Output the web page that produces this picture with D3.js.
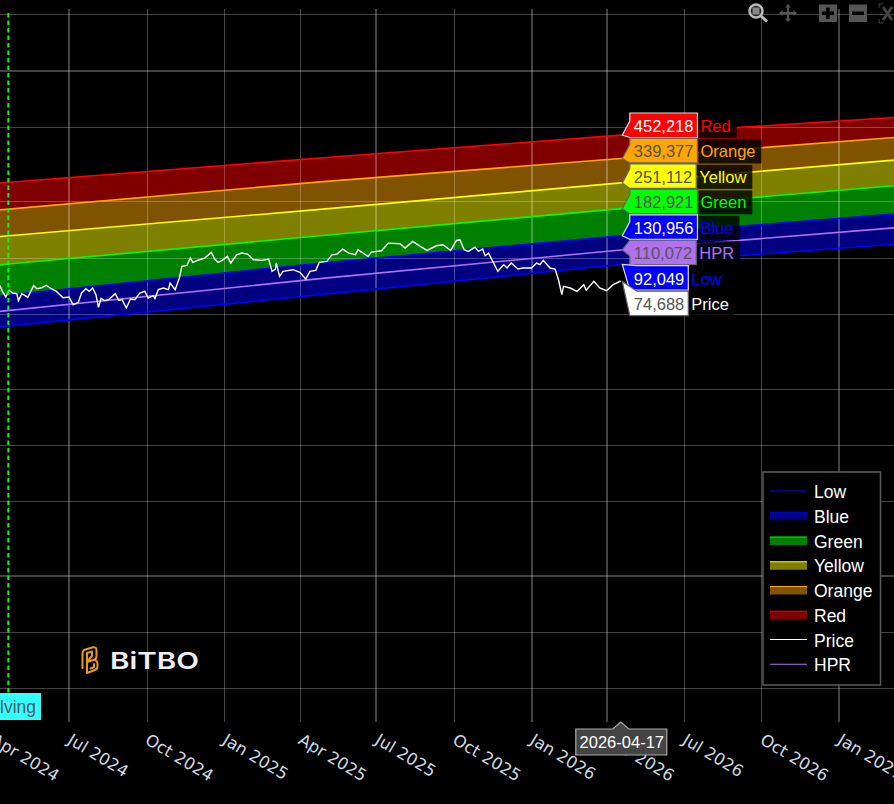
<!DOCTYPE html>
<html>
<head>
<meta charset="utf-8">
<title>Bitcoin Rainbow Bands</title>
<script src="https://d3js.org/d3.v7.min.js"></script>
<style>
    html, body { margin: 0; padding: 0; background: #000; overflow: hidden; }
    svg { display: block; }
    text { font-family: "Liberation Sans", Arial, sans-serif; }
</style>
</head>
<body>
<div id="chart"></div>
<script>
// axis ticks
var xTickDates = ['2024-04-01', '2024-07-01', '2024-10-01', '2025-01-01', '2025-04-01', '2025-07-01',
    '2025-10-01', '2026-01-01', '2026-04-01', '2026-07-01', '2026-10-01', '2027-01-01'];
var yTickValues = [2000000, 1000000, 500000, 200000, 100000, 50000, 20000, 10000, 5000, 2000, 1000, 500];

// band edges
var bandDates = ['2024-04-01', '2025-04-25', '2026-04-17', '2027-03-15'];
var lowValues = [42300, 63500, 92049, 118800];
var blueValues = [62100, 93500, 130956, 172500];
var greenValues = [91000, 131000, 182921, 244200];
var yellowValues = [128800, 181400, 251112, 334800];
var orangeValues = [178700, 254300, 339377, 442000];
var redValues = [249000, 341400, 452218, 564800];
var hprValues = [51200, 77300, 110072, 145400];

// price line
var priceDates = ['2024-04-06', '2024-04-10', '2024-04-13', '2024-04-17', '2024-04-21', '2024-04-25', '2024-04-30',
    '2024-05-02', '2024-05-06', '2024-05-10', '2024-05-13', '2024-05-20', '2024-05-24', '2024-05-30',
    '2024-06-04', '2024-06-10', '2024-06-16', '2024-06-24', '2024-07-01', '2024-07-06', '2024-07-12',
    '2024-07-16', '2024-07-21', '2024-07-25', '2024-07-29', '2024-08-02', '2024-08-05', '2024-08-08',
    '2024-08-12', '2024-08-17', '2024-08-25', '2024-08-29', '2024-09-02', '2024-09-07', '2024-09-12',
    '2024-09-17', '2024-09-23', '2024-09-29', '2024-10-03', '2024-10-09', '2024-10-11', '2024-10-15',
    '2024-10-21', '2024-10-27', '2024-10-29', '2024-11-04', '2024-11-09', '2024-11-12', '2024-11-18',
    '2024-11-22', '2024-11-25', '2024-12-03', '2024-12-09', '2024-12-17', '2024-12-21', '2024-12-25',
    '2024-12-30', '2025-01-05', '2025-01-09', '2025-01-16', '2025-01-22', '2025-01-29', '2025-02-05',
    '2025-02-15', '2025-02-23', '2025-02-27', '2025-03-03', '2025-03-04', '2025-03-08', '2025-03-12',
    '2025-03-24', '2025-04-01', '2025-04-08', '2025-04-13', '2025-04-20', '2025-04-24', '2025-05-03',
    '2025-05-09', '2025-05-15', '2025-05-22', '2025-05-29', '2025-06-06', '2025-06-09', '2025-06-21',
    '2025-06-25', '2025-07-07', '2025-07-15', '2025-07-29', '2025-08-04', '2025-08-13', '2025-08-22',
    '2025-08-30', '2025-09-10', '2025-09-18', '2025-09-27', '2025-10-04', '2025-10-08', '2025-10-13',
    '2025-10-18', '2025-10-26', '2025-10-30', '2025-11-04', '2025-11-07', '2025-11-11', '2025-11-17',
    '2025-11-22', '2025-11-29', '2025-12-03', '2025-12-08', '2025-12-16', '2025-12-22', '2026-01-01',
    '2026-01-07', '2026-01-11', '2026-01-15', '2026-01-23', '2026-01-29', '2026-02-02', '2026-02-06',
    '2026-02-08', '2026-02-16', '2026-02-24', '2026-03-04', '2026-03-07', '2026-03-16', '2026-03-23',
    '2026-03-31', '2026-04-08', '2026-04-16', '2026-04-17'];
var priceValues = [72000, 70900, 66100, 61700, 67000, 64800, 64300,
    59000, 64300, 62700, 61400, 70900, 68300, 69200,
    71200, 68300, 66100, 61200, 61700, 56100, 57800,
    64800, 68300, 66100, 68900, 63500, 54300, 60700,
    59000, 59700, 64300, 59200, 59700, 53900, 60200,
    59700, 64800, 66100, 60900, 62700, 60500, 67500,
    68900, 67500, 73300, 67500, 77900, 89900, 91000,
    99600, 94400, 97600, 99600, 106800, 98400, 94400,
    96800, 101700, 93700, 103700, 105900, 104600, 97600,
    96800, 98400, 84600, 87000, 93700, 79500, 84600,
    86300, 83500, 77000, 84600, 85600, 94400, 95600,
    103700, 104600, 111200, 105900, 103700, 110300, 101700,
    107200, 109000, 119700, 118800, 112600, 122200, 114900,
    109400, 115900, 117300, 109400, 123700, 124700, 110300,
    108100, 114000, 108100, 111200, 102500, 105900, 93700,
    84600, 91800, 88100, 93700, 87000, 88100, 88100,
    93700, 91800, 96800, 88100, 87000, 76300, 63500,
    70300, 68900, 66100, 71800, 67000, 74800, 68900,
    66700, 71800, 74800, 74688];

var halvingDate = '2024-04-20';
var cursorDate = '2026-04-17';

// legend order and labels
var legendNames = ['Low', 'Blue', 'Green', 'Yellow', 'Orange', 'Red', 'Price', 'HPR'];
var flagNames = ['Red', 'Orange', 'Yellow', 'Green', 'Blue', 'HPR', 'Low', 'Price'];
var flagValues = [452218, 339377, 251112, 182921, 130956, 110072, 92049, 74688];

var colors = { Low: '#0000ff', Blue: '#0000ff', Green: '#00ff00', Yellow: '#ffff00', Orange: '#ffa500',
    Red: '#ff0000', Price: '#ffffff', HPR: '#b070f0' };
var darkFlags = ['Orange', 'Yellow', 'Green', 'HPR', 'Price'];

var parseDate = d3.timeParse('%Y-%m-%d');
var formatNumber = d3.format(',');
var formatTick = d3.timeFormat('%b %Y');

var svg = d3.select('#chart').append('svg')
    .attr('width', 894)
    .attr('height', 804);

svg.append('rect').attr('width', 894).attr('height', 804).attr('fill', '#000');

var xScale = d3.scaleTime()
    .domain([parseDate('2024-07-01'), parseDate('2027-01-01')])
    .range([69, 839]);
var yScale = d3.scaleLog()
    .domain([500, 2000000])
    .range([688.3, 14.3]);

function bandRows(lower, upper) {
    return bandDates.map(function(d, i) {
        return { date: parseDate(d), low: lower[i], high: upper[i] };
    });
}

// bands first, the grid shows through them
var area = d3.area()
    .x(function(d) { return xScale(d.date); })
    .y0(function(d) { return yScale(d.low); })
    .y1(function(d) { return yScale(d.high); });

var bands = [
    { color: colors.Blue, rows: bandRows(lowValues, blueValues) },
    { color: colors.Green, rows: bandRows(blueValues, greenValues) },
    { color: colors.Yellow, rows: bandRows(greenValues, yellowValues) },
    { color: colors.Orange, rows: bandRows(yellowValues, orangeValues) },
    { color: colors.Red, rows: bandRows(orangeValues, redValues) }
];
bands.forEach(function(b) {
    svg.append('path')
        .datum(b.rows)
        .attr('d', area)
        .attr('fill', b.color)
        .attr('fill-opacity', 0.5);
});

// grid
var thickY = [1000000, 2000];
var thickX = ['2024-07-01', '2025-07-01', '2026-01-01', '2026-04-01', '2027-01-01'];
var gridColor = 'rgba(255,255,255,0.26)';

svg.append('g').selectAll('line')
    .data(yTickValues)
    .enter().append('line')
    .attr('x1', 0)
    .attr('x2', 894)
    .attr('y1', function(d) { return Math.round(yScale(d)) + (thickY.indexOf(d) >= 0 ? 0 : 0.5); })
    .attr('y2', function(d) { return Math.round(yScale(d)) + (thickY.indexOf(d) >= 0 ? 0 : 0.5); })
    .attr('stroke', gridColor)
    .attr('stroke-width', function(d) { return thickY.indexOf(d) >= 0 ? 2 : 1; });

svg.append('g').selectAll('line')
    .data(xTickDates)
    .enter().append('line')
    .attr('x1', function(d) { return Math.round(xScale(parseDate(d))) + (thickX.indexOf(d) >= 0 ? 0 : 0.5); })
    .attr('x2', function(d) { return Math.round(xScale(parseDate(d))) + (thickX.indexOf(d) >= 0 ? 0 : 0.5); })
    .attr('y1', 9)
    .attr('y2', 722)
    .attr('stroke', gridColor)
    .attr('stroke-width', function(d) { return thickX.indexOf(d) >= 0 ? 2 : 1; });

// band edges and the lines
function valueLine(values, color, width) {
    var rows = bandDates.map(function(d, i) { return { date: parseDate(d), value: values[i] }; });
    svg.append('path')
        .datum(rows)
        .attr('d', d3.line()
            .x(function(d) { return xScale(d.date); })
            .y(function(d) { return yScale(d.value); }))
        .attr('fill', 'none')
        .attr('stroke', color)
        .attr('stroke-width', width);
}
valueLine(lowValues, colors.Low, 1.6);
valueLine(blueValues, colors.Blue, 1.6);
valueLine(greenValues, colors.Green, 1.6);
valueLine(yellowValues, colors.Yellow, 1.6);
valueLine(orangeValues, colors.Orange, 1.6);
valueLine(redValues, colors.Red, 1.6);
valueLine(hprValues, colors.HPR, 1.6);

var priceRows = priceDates.map(function(d, i) { return { date: parseDate(d), value: priceValues[i] }; });
svg.append('path')
    .datum(priceRows)
    .attr('d', d3.line()
        .x(function(d) { return xScale(d.date); })
        .y(function(d) { return yScale(d.value); }))
    .attr('fill', 'none')
    .attr('stroke', colors.Price)
    .attr('stroke-width', 1.4);

// halving marker
var halvingX = xScale(parseDate(halvingDate));
svg.append('line')
    .attr('x1', halvingX)
    .attr('x2', halvingX)
    .attr('y1', 13)
    .attr('y2', 693)
    .attr('stroke', '#00ff00')
    .attr('stroke-width', 2)
    .attr('stroke-dasharray', '4.5,3');
svg.append('rect')
    .attr('x', -40).attr('y', 693)
    .attr('width', 81).attr('height', 27)
    .attr('fill', '#33ffff');
svg.append('text')
    .attr('x', 36).attr('y', 713)
    .attr('text-anchor', 'end')
    .attr('font-size', 17.5)
    .attr('fill', '#4d5a66')
    .text('Halving');

// x axis labels
var axis = d3.axisBottom(xScale)
    .tickValues(xTickDates.map(parseDate))
    .tickFormat(formatTick)
    .tickSize(0);
var axisGroup = svg.append('g')
    .attr('transform', 'translate(0,723)')
    .call(axis);
axisGroup.select('.domain').remove();
axisGroup.selectAll('text')
    .attr('text-anchor', 'start')
    .attr('x', 0)
    .attr('y', 0)
    .attr('dy', 0)
    .attr('transform', 'translate(-3,20) rotate(31)')
    .style('font-family', '"DejaVu Sans", sans-serif')
    .style('font-size', '16.5px')
    .attr('fill', '#cfd8e0');

// date flag under the cursor
var cursorX = xScale(parseDate(cursorDate));
svg.append('path')
    .attr('d', d3.line()([[cursorX - 45, 729], [cursorX - 8, 729], [cursorX, 722], [cursorX + 8, 729],
        [cursorX + 46, 729], [cursorX + 46, 755], [cursorX - 45, 755]]) + 'Z')
    .attr('fill', '#444')
    .attr('stroke', '#aaa')
    .attr('stroke-width', 1.2);
svg.append('text')
    .attr('x', cursorX + 1)
    .attr('y', 748)
    .attr('text-anchor', 'middle')
    .attr('font-size', 16.5)
    .attr('fill', '#fff')
    .text(cursorDate);

// value flags at the cursor
var flagLeft = cursorX + 9;
var tipX = cursorX + 1.5;
flagNames.forEach(function(name, i) {
    var top = 113 + i * 25.45;
    var bottom = top + 24.5;
    var dark = darkFlags.indexOf(name) >= 0;
    var value = flagValues[i];
    var tipY = yScale(value);
    var g = svg.append('g');

    var label = g.append('text')
        .attr('x', flagLeft + 4)
        .attr('y', top + 19)
        .attr('font-size', 16.5)
        .attr('fill', dark ? '#555' : '#fff')
        .text(formatNumber(value));
    var width = label.node().getComputedTextLength() + 8;
    var right = flagLeft + width;

    var points;
    if (name === 'Low' || name === 'Price') {
        points = [[flagLeft + 7, top], [right, top], [right, bottom], [flagLeft, bottom], [tipX, tipY]];
    } else {
        var upper = Math.max(top, tipY - 14);
        var lower = Math.min(bottom, tipY + 6);
        points = [[flagLeft, top], [right, top], [right, bottom], [flagLeft, bottom], [flagLeft, lower], [tipX, tipY], [flagLeft, upper]];
    }
    g.insert('path', 'text')
        .attr('d', d3.line()(points) + 'Z')
        .attr('fill', colors[name])
        .attr('stroke', dark ? '#666' : '#ddd')
        .attr('stroke-width', 1.2);

    var nameText = g.append('text')
        .attr('x', right + 3)
        .attr('y', top + 19)
        .attr('font-size', 16.5)
        .attr('fill', colors[name])
        .text(name);
    g.insert('rect', 'text:last-child')
        .attr('x', right + 1)
        .attr('y', top + 1)
        .attr('width', nameText.node().getComputedTextLength() + 8)
        .attr('height', 24)
        .attr('fill', 'rgba(0,0,0,0.8)');
});

// legend
var legend = svg.append('g');
legend.append('rect')
    .attr('x', 763).attr('y', 472)
    .attr('width', 117.5).attr('height', 213)
    .attr('fill', '#000')
    .attr('stroke', '#5c5c5c')
    .attr('stroke-width', 1.5);
legendNames.forEach(function(name, i) {
    var rowY = 492 + i * 24.75;
    var isLine = name === 'Low' || name === 'Price' || name === 'HPR';
    if (!isLine) {
        legend.append('rect')
            .attr('x', 770).attr('y', rowY - 4.5)
            .attr('width', 37).attr('height', 8)
            .attr('fill', colors[name])
            .attr('fill-opacity', 0.5);
    }
    legend.append('line')
        .attr('x1', 770).attr('x2', 807)
        .attr('y1', isLine ? rowY - 1 : rowY - 4.5)
        .attr('y2', isLine ? rowY - 1 : rowY - 4.5)
        .attr('stroke', colors[name])
        .attr('stroke-width', 1.2);
    legend.append('text')
        .attr('x', 814)
        .attr('y', rowY + 6)
        .attr('font-size', 17.5)
        .attr('fill', '#fff')
        .text(name);
});

// logo
var logo = svg.append('g').attr('fill', 'none').attr('stroke', '#e49b1f').attr('stroke-width', 2)
    .attr('stroke-linejoin', 'round').attr('stroke-linecap', 'round');
logo.append('path').attr('d', 'M82.5 668 L82.5 654 Q82.5 650 85.5 649.5 L93 647.2 Q96.5 647 96.5 650 L96.5 656 Q96.5 659 94 660 Q97.5 660.5 97.5 664 L97.5 666.5 Q97.5 669 95 670 L87 673 L87 653 L92 651.5 L92 656 L87 662 L93.5 660');
logo.append('path').attr('d', 'M90.5 668.5 L94 667 L94 664');
svg.append('text')
    .attr('x', 110)
    .attr('y', 668.5)
    .attr('font-size', 23)
    .attr('font-weight', 600)
    .style('font-family', 'Inter, Roboto, sans-serif')
    .attr('fill', '#eeeeee')
    .attr('textLength', 89)
    .attr('lengthAdjust', 'spacingAndGlyphs')
    .text('BiTBO');

// toolbar icons
var tools = svg.append('g');
tools.append('circle').attr('cx', 756).attr('cy', 11).attr('r', 6.5)
    .attr('fill', '#222').attr('stroke', '#bbb').attr('stroke-width', 2.5);
tools.append('rect').attr('x', 752.5).attr('y', 7.5).attr('width', 7).attr('height', 7).attr('fill', '#888');
tools.append('line').attr('x1', 761).attr('y1', 16).attr('x2', 767).attr('y2', 21.5)
    .attr('stroke', '#bbb').attr('stroke-width', 3);
tools.append('path')
    .attr('d', 'M788 4 L791 7.5 L789 7.5 L789 12 L793.5 12 L793.5 10 L797 13 L793.5 16 L793.5 14 L789 14 L789 18.5 L791 18.5 L788 22 L785 18.5 L787 18.5 L787 14 L782.5 14 L782.5 16 L779 13 L782.5 10 L782.5 12 L787 12 L787 7.5 L785 7.5 Z')
    .attr('fill', '#555');
[828, 858].forEach(function(cx, i) {
    tools.append('rect').attr('x', cx - 9).attr('y', 4.5).attr('width', 18).attr('height', 17.5).attr('fill', '#555');
    tools.append('rect').attr('x', cx - 6).attr('y', 11.5).attr('width', 12).attr('height', 3.5).attr('fill', '#000');
    if (i === 0) {
        tools.append('rect').attr('x', cx - 1.8).attr('y', 7.5).attr('width', 3.5).attr('height', 11.5).attr('fill', '#000');
    }
});
tools.append('path')
    .attr('d', 'M883 7 L892 20 M892 7 L883 20')
    .attr('stroke', '#444').attr('stroke-width', 3).attr('fill', 'none');
tools.append('path')
    .attr('d', 'M883 4 L879 4 L879 8 M879 19 L879 23 L883 23')
    .attr('stroke', '#444').attr('stroke-width', 1).attr('fill', 'none');
</script>
</body>
</html>
